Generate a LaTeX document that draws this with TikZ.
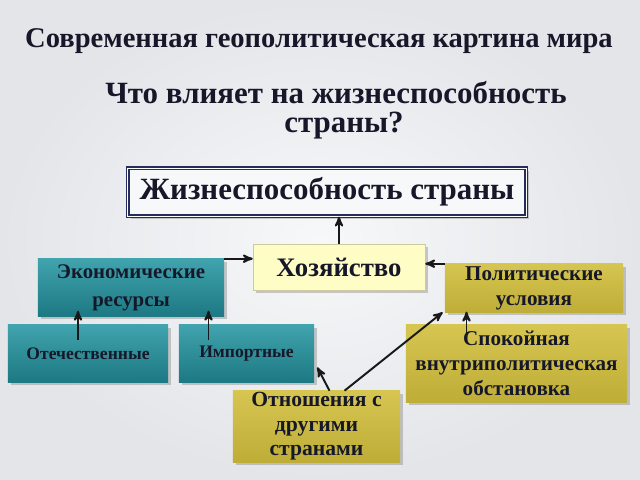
\documentclass[tikz,border=0pt]{standalone}
\usepackage{fontspec}
\setmainfont{Liberation Serif}
\usetikzlibrary{shadows, positioning, arrows, calc}
\definecolor{textColor}{HTML}{16182A}
\definecolor{navyColor}{HTML}{262C5C}
\definecolor{tealTop}{HTML}{40A3AD}
\definecolor{tealBottom}{HTML}{1D7983}
\definecolor{oliveTop}{HTML}{D6C651}
\definecolor{oliveBottom}{HTML}{BEAD37}
\definecolor{creamColor}{HTML}{FFFDC6}
\definecolor{bgInner}{HTML}{F7F8F9}
\definecolor{bgOuter}{HTML}{E3E5E9}
\tikzstyle{heading}=[align=center, text=textColor, font=\bfseries]
\tikzstyle{box}=[rectangle, align=center, text=textColor, inner sep=1pt,
drop shadow={opacity=0.4, shadow xshift=2pt, shadow yshift=-2pt}]
\tikzstyle{fMain}=[box, fill=bgInner, draw=navyColor, line width=0.9pt,
double=white, double distance=0.7pt]
\tikzstyle{fCream}=[box, fill=creamColor, draw=creamColor!80!black, line width=0.3pt]
\tikzstyle{fTeal}=[box, top color=tealTop, bottom color=tealBottom]
\tikzstyle{fOlive}=[box, top color=oliveTop, bottom color=oliveBottom]
\tikzstyle{arrow}=[->, line width=1.4pt, >=stealth', draw=black!90]

\begin{document}
\begin{tikzpicture}[x=0.025cm, y=-0.025cm]
    % background
    \shade[inner color=bgInner, outer color=bgOuter] (0,0) rectangle (640,480);
    \useasboundingbox (0,0) rectangle (640,480);
    % headings
    \node (title) [heading, font=\bfseries\fontsize{20.3}{23}\selectfont] at (319,41)
      {Современная геополитическая картина мира};
    \node (question) [heading, font=\bfseries\fontsize{22}{21}\selectfont] at (336,110)
      {Что влияет на жизнеспособность\\\hspace*{0.4cm}страны?};
    % boxes
    \node (viability) [fMain, minimum width=9.95cm, minimum height=1.2cm,
      font=\bfseries\fontsize{22}{25}\selectfont] at (327,192) {Жизнеспособность страны};
    \node (economy) [fCream, minimum width=4.3cm, minimum height=1.15cm,
      font=\bfseries\fontsize{19}{22}\selectfont] at (339,267) {Хозяйство};
    \node (resources) [fTeal, minimum width=4.65cm, minimum height=1.425cm,
      font=\bfseries\fontsize{14.8}{20}\selectfont] at (131,287.5) {Экономические\\ресурсы};
    \node (domestic) [fTeal, minimum width=4cm, minimum height=1.425cm,
      font=\bfseries\fontsize{12.5}{14}\selectfont] at (88,353.5) {Отечественные};
    \node (imported) [fTeal, minimum width=3.375cm, minimum height=1.425cm,
      font=\bfseries\fontsize{12.5}{14}\selectfont] at (246.5,353.5) {Импортные};
    \node (politics) [fOlive, minimum width=4.45cm, minimum height=1.2cm,
      font=\bfseries\fontsize{15}{17.8}\selectfont] at (534,288) {Политические\\условия};
    \node (calm) [fOlive, minimum width=5.525cm, minimum height=1.925cm,
      font=\bfseries\fontsize{15}{17.8}\selectfont] at (516.5,363.5)
      {Спокойная\\внутриполитическая\\обстановка};
    \node (relations) [fOlive, minimum width=4.175cm, minimum height=1.775cm,
      font=\bfseries\fontsize{15.4}{17.4}\selectfont] at (316.5,426.5)
      {Отношения с\\другими\\странами};
    % connectors
    \draw[arrow] (economy.north) -- (economy.north |- viability.south);
    \draw[arrow] (resources.north east) -- (resources.north east -| economy.west);
    \draw[arrow] (politics.north west) -- (politics.north west -| economy.east);
    \draw[arrow] ($(domestic.north)+(-10,15)$) -- ($(domestic.north)+(-10,-14)$);
    \draw[arrow] ($(imported.north)+(-38,15)$) -- ($(imported.north)+(-38,-14)$);
    \draw[arrow] ($(calm.north)+(-50,10)$) -- ($(calm.north)+(-50,-13)$);
    \draw[arrow] ($(relations.north)+(13,0)$) -- ($(imported.south east)+(3,-15)$);
    \draw[arrow] ($(relations.north)+(28,0)$) -- ($(politics.south west)+(-2,0)$);
\end{tikzpicture}
\end{document}
